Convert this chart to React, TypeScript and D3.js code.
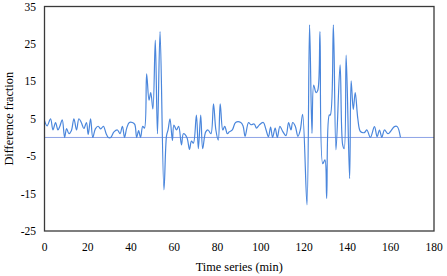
import React from "react";
import * as d3 from "d3";

const times: number[] = [
  0, 1.2, 2.8, 3.9, 5.1, 6.2, 7.1, 8.2, 9.3, 10.2, 11.3, 12.4, 13.6, 14.8, 15.9, 17, 18.2, 19.4, 20.2, 21.3,
  22.3, 23.5, 24.8, 26, 27.2, 28.5, 29.5, 30.6, 32.1, 33.7, 34.9, 36, 37, 38, 39.2, 40.6, 41.7, 42.6, 43.5, 44.4,
  45.4, 46.2, 47.2, 48.3, 49.1, 50.1, 51.2, 52.2, 53.4, 55.2, 56.4, 57.1, 58, 59.1, 59.8, 61, 62, 63.3, 64.2, 65.8,
  67, 67.9, 68.8, 70.2, 71.1, 72.2, 73.1, 74.5, 75.6, 76.9, 78.1, 79.2, 80.3, 81.2, 82.4, 83.3, 84.5, 85.4, 86.8, 88.3,
  90.7, 91.8, 92.7, 94.3, 95.4, 96.9, 98, 99.2, 101.1, 102.3, 103.5, 104.5, 105.4, 106.6, 107.6, 108.8, 110, 111.6, 112.8, 113.9,
  114.7, 115.9, 117.1, 118.2, 119.3, 121.3, 122.5, 123.6, 124.4, 125.5, 126.3, 127.3, 128.6, 129.6, 130.4, 131.6, 132.1, 133.5, 134.7, 136.6,
  137.8, 138.5, 139.4, 141, 141.7, 142.7, 143.6, 144.8, 146, 147.8, 149, 150.6, 152.5, 153.7, 154.8, 155.9, 157.1, 158.7, 159.9, 161.7,
  163, 164.5,
];

const values: number[] = [
  4.5, 3.1, 5, 2, 4, 2, 3, 4.7, 0, 2.4, 1, 1.8, 5, 2, 5, 4, 2.4, 4, 0.8, 5,
  0, 2.3, 3, 2.3, 3, 1, 0, 0, 1.5, 2, 1, 3, 0, 2.5, 4, 4, 3.5, 0, 1.8, 0,
  3, 2.5, 17, 10, 12, 7.6, 26, 1, 28.3, -14, 0.5, 2, 5, -0.8, 3.3, 2, 3, -2, 1, 0,
  -3.2, -1, -1.5, 6, -3, 6, -3, 1.5, 2, 1, 9, 2, -0.7, 9, 2, 3, 1, 1.5, 2, 4,
  4, 3, 0.3, 4, 3.4, 3.6, 2.5, 3.3, 4, 2.2, 0.2, 2.8, 0, 2.5, 0, 3, 1.7, 0.5, 4, 2,
  4, 3, 0.3, 2, 6.2, -18, 30.1, 1.1, 14, 12, 12.6, 28.3, -7, -6, -16.3, 6, 6, 30.1, -3.3, 19.4,
  -2, -3, 22, -11, 15.1, 7.5, 12, 5, 1.6, 1.3, 2, 0, 2.9, 0.2, 2, 0, 2, 1, 1.6, 2.9,
  2.9, 0,
];

const baseline: number[] = [0, 0];
const baselineTimes: number[] = [0, 180];

const xTicks: number[] = [0, 20, 40, 60, 80, 100, 120, 140, 160, 180];
const yTicks: number[] = [35, 25, 15, 5, -5, -15, -25];

const xTitle = "Time series (min)";
const yTitle = "Difference fraction";

const W = 447;
const H = 276;
const left = 44.5;
const right = 434;
const top = 6.5;
const bottom = 231;

export default function App() {
  const x = d3.scaleLinear().domain([0, 180]).range([left, right]);
  const y = d3.scaleLinear().domain([-25, 35]).range([bottom, top]);

  const pts: [number, number][] = times.map((t, i) => [t, values[i]]);
  const line = d3
    .line<[number, number]>()
    .x((d) => x(d[0]))
    .y((d) => y(d[1]))
    .curve(d3.curveCatmullRom.alpha(0.5));

  const basePts: [number, number][] = baselineTimes.map((t, i) => [t, baseline[i]]);
  const baseLine = d3
    .line<[number, number]>()
    .x((d) => x(d[0]))
    .y((d) => y(d[1]));

  const font = "'Liberation Serif', 'Times New Roman', serif";

  return (
    <svg
      width={W}
      height={H}
      style={{ position: "absolute", left: 0, top: 0, background: "#fff" }}
      fontFamily={font}
    >
      <rect x={0} y={0} width={W} height={H} fill="#fff" />
      <path d={baseLine(basePts) || ""} fill="none" stroke="#8ea4e6" strokeWidth={1} />
      <path d={line(pts) || ""} fill="none" stroke="#4a86dc" strokeWidth={1.2} strokeLinejoin="round" />
      <rect
        x={left}
        y={top}
        width={right - left}
        height={bottom - top}
        fill="none"
        stroke="#3a3a3a"
        strokeWidth={1.3}
      />
      {yTicks.map((v) => (
        <text key={"y" + v} x={36} y={y(v)} dy="0.35em" textAnchor="end" fontSize={11.5} fill="#000">
          {v}
        </text>
      ))}
      {xTicks.map((v) => (
        <text key={"x" + v} x={x(v)} y={250.5} textAnchor="middle" fontSize={11.5} fill="#000">
          {v}
        </text>
      ))}
      <text x={(left + right) / 2} y={271} textAnchor="middle" fontSize={12.3} fill="#000">
        {xTitle}
      </text>
      <text
        transform={`translate(12.5, ${(top + bottom) / 2}) rotate(-90)`}
        textAnchor="middle"
        fontSize={12.3}
        fill="#000"
      >
        {yTitle}
      </text>
    </svg>
  );
}
